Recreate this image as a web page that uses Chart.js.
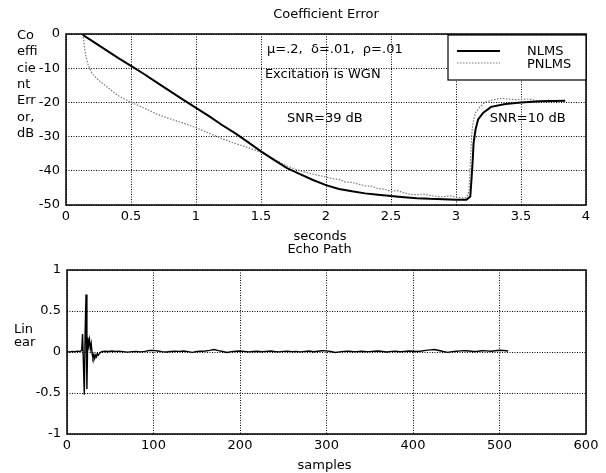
<!DOCTYPE html>
<html>
<head>
<meta charset="utf-8">
<script src="https://cdn.jsdelivr.net/npm/chart.js@4/dist/chart.umd.min.js"></script>
<style>
  body { margin: 0; background: #fff; }
  canvas { position: absolute; left: 0; top: 0; }
</style>
</head>
<body>
<canvas id="chart1" width="606" height="473"></canvas>
<canvas id="chart2" width="606" height="473"></canvas>
<script>
// ---- top plot: coefficient error (dB) vs seconds ----
const secNLMS = [0.13, 0.2, 0.3, 0.4, 0.5, 0.6, 0.7, 0.8, 0.9, 1.0,
  1.1, 1.2, 1.3, 1.4, 1.5, 1.6, 1.7, 1.8, 1.9, 2.0,
  2.1, 2.2, 2.3, 2.4, 2.5, 2.6, 2.7, 2.8, 2.9, 3.0,
  3.08, 3.11, 3.12, 3.13, 3.135, 3.15, 3.17, 3.21, 3.27, 3.38,
  3.5, 3.65, 3.84];
const dbNLMS = [-0.3, -2, -4.5, -7, -9.3, -11.7, -14.2, -16.7, -19.2, -21.6,
  -24, -26.6, -29, -31.6, -34.3, -36.8, -39.2, -41, -42.7, -44.2,
  -45.3, -46, -46.6, -47, -47.4, -47.7, -48, -48.2, -48.3, -48.5,
  -48.5, -47.5, -42, -36, -32, -28, -25, -23, -21.3, -20.5,
  -20, -19.7, -19.5];

const secPNLMS = [0.13, 0.14, 0.15, 0.17, 0.2, 0.25, 0.3, 0.35, 0.4, 0.45,
  0.5, 0.6, 0.7, 0.8, 0.9, 1.0, 1.1, 1.2, 1.3, 1.4,
  1.5, 1.6, 1.7, 1.8, 1.9, 2.0, 2.05, 2.1, 2.15, 2.2,
  2.25, 2.3, 2.35, 2.4, 2.45, 2.5, 2.55, 2.6, 2.65, 2.7,
  2.75, 2.8, 2.85, 2.9, 2.95, 3.0, 3.05, 3.08, 3.1, 3.11,
  3.12, 3.13, 3.15, 3.18, 3.22, 3.28, 3.35, 3.45, 3.55, 3.65,
  3.72, 3.78];
const dbPNLMS = [0, -3, -6, -9, -11.5, -13.5, -15, -16.5, -18, -19,
  -20, -21.6, -23.5, -24.8, -26, -27.4, -29, -30.6, -32, -33.2,
  -34.6, -36.6, -38.6, -40, -41, -41.8, -42.3, -42.5, -43.3, -43.4,
  -43.9, -44.4, -44.5, -45.2, -45.4, -46, -45.8, -46.4, -46.9, -47,
  -46.8, -47.2, -47.5, -47.6, -47.3, -47.7, -47.9, -47.8, -46, -38,
  -30, -26, -23, -21.5, -20, -19.3, -18.8, -19.2, -19, -19.6,
  -19.3, -19.8];

const xTicksTop = [0, 0.5, 1, 1.5, 2, 2.5, 3, 3.5, 4];
const yTicksTop = [-50, -40, -30, -20, -10, 0];

// ---- bottom plot: echo path ----
const echoSample = [0, 3, 6, 9, 12, 15, 17, 18, 19, 20,
  21, 22, 23, 24, 25, 26, 27, 28, 29, 30,
  31, 32, 33, 34, 35, 36, 38, 40, 44, 48,
  52, 56, 60, 65, 70, 75, 80, 85, 90, 95,
  100, 105, 110, 115, 120, 125, 130, 135, 140, 145,
  150, 155, 160, 165, 170, 175, 180, 185, 190, 195,
  200, 205, 210, 215, 220, 225, 230, 235, 240, 245,
  250, 255, 260, 265, 270, 275, 280, 285, 290, 295,
  300, 305, 310, 315, 320, 325, 330, 335, 340, 345,
  350, 355, 360, 365, 370, 375, 380, 385, 390, 395,
  400, 405, 410, 415, 420, 425, 430, 435, 440, 445,
  450, 455, 460, 465, 470, 475, 480, 485, 490, 495,
  500, 505, 510];
const echoAmp = [0.005, 0, 0.008, 0.004, 0.01, 0.006, 0.02, 0.22, -0.15, -0.52,
  0.25, 0.7, -0.45, 0.18, 0.08, 0.15, 0.04, 0.1, -0.02, -0.07,
  -0.03, -0.08, -0.04, -0.06, -0.02, -0.04, -0.01, 0.005, 0.01, 0.006,
  0.012, 0.008, 0.01, 0.004, -0.002, 0.004, 0.006, 0.002, 0.008, 0.018,
  0.02, 0.012, 0.004, 0, 0.006, 0.01, 0.008, 0.012, 0.004, -0.004,
  0.006, 0.01, 0.012, 0.02, 0.03, 0.016, 0.006, -0.006, 0.004, 0.01,
  0.012, 0.008, 0.002, 0.006, 0.01, 0.004, 0.008, 0.012, 0.006, 0.002,
  0.008, 0.01, 0.004, 0.006, 0.002, 0.008, 0.012, 0.004, 0.01, 0.016,
  0.014, 0.006, -0.006, 0.002, 0.008, 0.01, 0.006, 0.004, 0.01, 0.006,
  0.004, 0.01, 0.012, 0.006, 0, 0.008, 0.01, 0.004, 0.008, 0.012,
  0.01, 0.006, 0.012, 0.02, 0.026, 0.03, 0.018, 0.006, -0.004, 0.004,
  0.01, 0.014, 0.016, 0.012, 0.006, 0.01, 0.016, 0.014, 0.01, 0.016,
  0.022, 0.018, 0.012];

const xTicksBot = [0, 100, 200, 300, 400, 500, 600];
const yTicksBot = [-1, -0.5, 0, 0.5, 1];

const yLabelTop = ["Co", "effi", "cie", "nt", "Err", "or,", "dB"];
const yLabelBot = ["Lin", "ear"];

Chart.defaults.font.family = "'DejaVu Sans', Arial, sans-serif";
Chart.defaults.font.size = 13;
Chart.defaults.color = "#000";

function pairs(xs, ys) {
  return xs.map((x, i) => ({ x: x, y: ys[i] }));
}

function axis(min, max, ticks, size, isX) {
  return {
    type: "linear",
    min: min,
    max: max,
    afterBuildTicks: (s) => { s.ticks = ticks.map((v) => ({ value: v })); },
    afterFit: (s) => { if (isX) s.height = size; else s.width = size; },
    ticks: { padding: isX ? 4 : 6, autoSkip: false, maxRotation: 0, callback: (v) => String(v) },
    grid: { color: "#000", lineWidth: 1, drawTicks: false },
    border: { display: false, dash: [1, 1.5] },
  };
}

function text(ctx, s, x, y, align) {
  ctx.textAlign = align || "left";
  ctx.textBaseline = "alphabetic";
  ctx.fillText(s, x, y);
}

const framePlugin = {
  id: "frame",
  afterDraw(chart) {
    const a = chart.chartArea, ctx = chart.ctx;
    ctx.save();
    ctx.setLineDash([]);
    ctx.strokeStyle = "#000";
    ctx.lineWidth = 1.5;
    ctx.strokeRect(a.left, a.top, a.right - a.left, a.bottom - a.top);
    ctx.restore();
  },
};

const topText = {
  id: "topText",
  afterDraw(chart) {
    const a = chart.chartArea, ctx = chart.ctx;
    const xs = chart.scales.x, ys = chart.scales.y;
    ctx.save();
    ctx.fillStyle = "#000";
    ctx.font = "13px 'DejaVu Sans'";
    text(ctx, "Coefficient Error", (a.left + a.right) / 2, a.top - 16, "center");
    text(ctx, "seconds", (a.left + a.right) / 2 - 6, a.bottom + 35, "center");
    yLabelTop.forEach((s, i) => text(ctx, s, 17, 39 + i * 16.3));
    text(ctx, "\u03bc=.2,  \u03b4=.01,  \u03c1=.01", xs.getPixelForValue(1.546), ys.getPixelForValue(-5.6));
    text(ctx, "Excitation is WGN", xs.getPixelForValue(1.53), ys.getPixelForValue(-12.9));
    text(ctx, "SNR=39 dB", xs.getPixelForValue(1.70), ys.getPixelForValue(-25.7));
    text(ctx, "SNR=10 dB", xs.getPixelForValue(3.26), ys.getPixelForValue(-25.7));

    // legend box in the top right corner
    const lx = a.right - 138, ly = a.top + 1;
    ctx.fillStyle = "#fff";
    ctx.fillRect(lx, ly, 138, 45);
    ctx.strokeStyle = "#000";
    ctx.lineWidth = 1.2;
    ctx.strokeRect(lx, ly, 138, 45);
    chart.data.datasets.forEach((ds, i) => {
      const y = ly + 16 + i * 12;
      ctx.beginPath();
      ctx.setLineDash(ds.borderDash || []);
      ctx.strokeStyle = ds.borderColor;
      ctx.lineWidth = ds.borderWidth;
      ctx.moveTo(lx + 9, y);
      ctx.lineTo(lx + 52, y);
      ctx.stroke();
      ctx.setLineDash([]);
      ctx.fillStyle = "#000";
      text(ctx, ds.label, lx + 79, ly + 20 + i * 13);
    });
    ctx.restore();
  },
};

const botText = {
  id: "botText",
  afterDraw(chart) {
    const a = chart.chartArea, ctx = chart.ctx;
    ctx.save();
    ctx.fillStyle = "#000";
    ctx.font = "13px 'DejaVu Sans'";
    text(ctx, "Echo Path", (a.left + a.right) / 2 - 7, a.top - 17, "center");
    text(ctx, "samples", (a.left + a.right) / 2 - 2, a.bottom + 35, "center");
    yLabelBot.forEach((s, i) => text(ctx, s, 14, 333 + i * 12.7));
    ctx.restore();
  },
};

function charit() {
  const ctx1 = document.getElementById("chart1").getContext("2d");
  new Chart(ctx1, {
    type: "line",
    data: {
      datasets: [
        {
          label: "NLMS",
          data: pairs(secNLMS, dbNLMS),
          borderColor: "#000",
          borderWidth: 2,
          pointRadius: 0,
        },
        {
          label: "PNLMS",
          data: pairs(secPNLMS, dbPNLMS),
          borderColor: "#7a7a7a",
          borderWidth: 1.2,
          borderDash: [1.5, 1.5],
          pointRadius: 0,
        },
      ],
    },
    options: {
      responsive: false,
      animation: false,
      layout: { padding: { left: 0, top: 34, right: 20, bottom: 473 - 205 - 24 } },
      scales: {
        x: axis(0, 4, xTicksTop, 24, true),
        y: axis(-50, 0, yTicksTop, 66, false),
      },
      plugins: { legend: { display: false }, tooltip: { enabled: false } },
    },
    plugins: [framePlugin, topText],
  });

  const ctx2 = document.getElementById("chart2").getContext("2d");
  new Chart(ctx2, {
    type: "line",
    data: {
      datasets: [
        {
          label: "Echo Path",
          data: pairs(echoSample, echoAmp),
          borderColor: "#000",
          borderWidth: 1.4,
          pointRadius: 0,
        },
      ],
    },
    options: {
      responsive: false,
      animation: false,
      layout: { padding: { left: 0, top: 270, right: 20, bottom: 473 - 434 - 24 } },
      scales: {
        x: axis(0, 600, xTicksBot, 24, true),
        y: axis(-1, 1, yTicksBot, 67, false),
      },
      plugins: { legend: { display: false }, tooltip: { enabled: false } },
    },
    plugins: [framePlugin, botText],
  });
}

charit();
</script>
</body>
</html>
